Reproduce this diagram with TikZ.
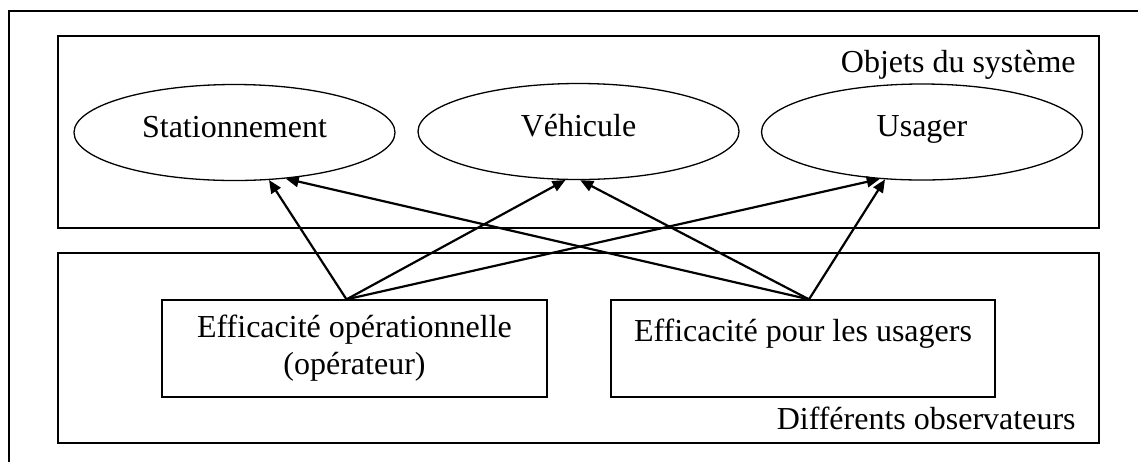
\documentclass[tikz,border=0pt]{standalone}
\usepackage{fontspec}
\setmainfont{Liberation Serif}
\usetikzlibrary{shapes.geometric,arrows.meta}
\begin{document}
\begin{tikzpicture}[x=0.5pt,y=-0.5pt,
  txt/.style={font=\fontsize{16}{18.5}\selectfont},
  frame/.style={draw,line width=0.65pt,inner sep=0pt,minimum width=520.5pt},
  obj/.style={ellipse,draw,line width=0.65pt,inner sep=0pt,minimum width=160.5pt,minimum height=48pt,text height=11pt,text depth=6.5pt,txt},
  obsbox/.style={draw,line width=0.65pt,inner sep=0pt,minimum width=192.5pt,minimum height=48.5pt,align=center,txt},
  lbl/.style={anchor=base east,inner sep=0pt,txt},
  arr/.style={line width=1.1pt,-{Triangle[length=6.5pt,width=5.5pt]}}]
\useasboundingbox (0,0) rectangle (1138,462);
% outer frame (partly outside the picture)
\draw[line width=0.65pt] (9,462) -- (9,11) -- (1138,11);
% group boxes
\node[frame,minimum height=96pt] (objs) at (578.5,132) {};
\node[frame,minimum height=95pt] (obs) at (578.5,348) {};
\node[lbl] (lobj) at (1076,72) {Objets du système};
\node[lbl] (lobs) at (1076,429) {Différents observateurs};
% objects
\node[obj] (st) at (234.5,132.5) {Stationnement};
\node[obj] (veh) at (578.5,131.5) {Véhicule};
\node[obj] (usa) at (922,132) {Usager};
% observers
\node[obsbox] (op) at (354.5,348.5) {Efficacité opérationnelle\\(opérateur)};
\node[obsbox,minimum width=192pt] (eu) at (803,348.5) {Efficacité pour les usagers\\\mbox{}};
% connectors
\coordinate (opS) at ([xshift=-4pt]op.north);
\coordinate (euS) at ([xshift=3pt]eu.north);
\draw[arr] (opS) -- (st.-54.8);
\draw[arr] (opS) -- (veh.-105.9);
\draw[arr] (opS) -- (usa.-132.8);
\draw[arr] (euS) -- (st.-42.3);
\draw[arr] (euS) -- (veh.-88.2);
\draw[arr] (euS) -- (usa.-128.2);
\end{tikzpicture}
\end{document}
